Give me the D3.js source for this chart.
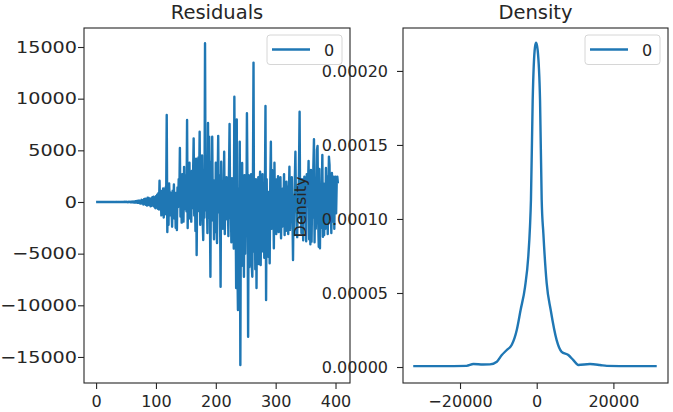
<!DOCTYPE html>
<html><head><meta charset="utf-8">
<script src="https://cdn.jsdelivr.net/npm/d3@7"></script>
<style>
body{margin:0;background:#fff}
svg{display:block}
text{font-family:"DejaVu Sans",sans-serif;fill:#262626}
</style>
</head><body>
<svg id="c" width="673" height="412"></svg>
<script>
// ---------- data ----------
const residuals = [
  0, 2, -3, 1, 4, -2, 0, 3, -1, 2,
  -4, 3, 1, -2, 5, -3, 2, 0, -5, 4,
  3, -6, 2, 5, -4, 1, 7, -5, 3, -2,
  6, -8, 4, 2, -7, 9, -3, 5, -10, 8,
  -6, 12, -9, 4, 15, -11, 8, -14, 18, -7,
  20, -16, 11, -22, 25, -13, 30, -27, 18, -35,
  42, -30, 55, -48, 38, -60, 75, -52, 90, -70,
  110, -85, 140, -120, 95, -160, 210, -130, 180, -240,
  260, -190, 320, -280, 230, -350, 420, -300, 380, -260,
  300, -420, 350, -380, 460, -310, 520, -450, 400, -600,
  550, -480, 700, -650, 850, -720, 2050, -700, 1100, -1300,
  900, -600, 1300, -1500, 400, -1200, 1400, -300, 8420, -2900,
  600, -2200, 1800, 200, -1300, 900, -600, -2400, 1100, -400,
  1700, -1600, 300, -2500, 900, -2710, 1400, -500, 2200, 100,
  5230, -1400, 800, -2000, 2700, 300, -1900, 3400, -700, 1200,
  2600, -900, 7940, -2520, 1300, 400, 3800, -1600, 600, -1900,
  3000, -600, 2500, 6160, -1300, 1900, -2800, 4200, -5130, 1600,
  -900, 4300, 800, 6800, -2200, 3100, -400, 4500, -1600, -3680,
  2000, -1500, 15360, -800, 4200, 1000, -3000, 7640, -1500, 6320,
  500, -7230, 3900, -1800, 6320, -600, 2100, -3600, 500, -2900,
  3800, -700, -3970, 1200, 6400, -1000, 2600, -200, -8200, 3900,
  -1500, 1200, -2600, 300, 4870, -3100, 900, -1700, 2400, -300,
  1100, -3300, 2600, 7550, -1550, 800, -3900, 2300, -1200, 700,
  -4500, 10190, -2000, 1100, -8330, 8000, -5600, -10450, 1300, -5800,
  5840, -15780, 1400, -6200, 3770, -3400, 900, -7230, 2600, -5000,
  800, -3200, 8590, 1200, -13040, 2600, -6300, 1100, -2500, 2700,
  -6100, -7230, 1300, 13490, -4800, 900, -6500, 2200, -8330, 800,
  -3700, 2400, -6000, 600, 2930, -6100, 1100, -2200, 2700, -4800,
  1300, -5400, 400, 9290, -9490, 2200, -2900, 600, -5300, 1000,
  -5930, 1800, 5840, -2600, 3100, -1200, 700, -4480, 3800, -1900,
  900, -3100, 2200, -600, 2500, -2900, 300, -1300, 2400, -3520,
  600, -2400, 1300, -1000, 2700, -3200, 100, -2800, 1970, -600,
  1500, -3100, 400, 3420, -2700, 900, -1300, 2400, -1000, -5610,
  600, -3200, 2100, 4870, -900, 1500, -3400, 800, -1100, 3300,
  8740, -1600, 700, -3000, 2200, -500, -3700, 1600, 2450, -1300,
  1000, -3800, 2700, -400, 1300, 3970, -3600, 900, -4100, 3100,
  -3840, 800, -1500, 3400, 6070, -3900, 1000, -2600, 600, 5030,
  5420, -1700, -4330, 3200, -4480, 900, -2500, 1100, 4550, -3360,
  1800, -3200, 800, -2600, 3300, -900, 2500, -3100, 700, 4390,
  3580, -1700, 400, -3000, 2800, -1900, 300, 2450, -2600, 2200,
  2450, -1100, 1900, 2450, 1800
];
const residualTicksX = [0, 100, 200, 300, 400];
const residualTicksY = [-15000, -10000, -5000, 0, 5000, 10000, 15000];

const densityX = [-32200, -25000, -18300, -16500, -14000, -12200, -10400, -9100, -7800, -6500,
  -5200, -4200, -3050, -2200, -1750, -1500, -1050, -450, -150, 250,
  870, 1300, 1740, 2600, 3650, 5200, 6500, 8250, 9550, 10850,
  13900, 16500, 18300, 25000, 31300];
const densityY = [0.0000006, 0.0000006, 0.0000008, 0.000002, 0.0000017, 0.0000018, 0.0000036, 0.0000081, 0.0000115, 0.000015,
  0.000025, 0.0000385, 0.000054, 0.0000745, 0.000095, 0.000113, 0.00018, 0.000216, 0.000219, 0.000214,
  0.00018, 0.000113, 0.00009, 0.0000566, 0.0000385, 0.0000182, 0.0000103, 0.0000081, 0.0000047, 0.0000014,
  0.000002, 0.0000014, 0.0000008, 0.0000006, 0.0000006];
const densityTicksX = [-20000, 0, 20000];
const densityTicksY = [0, 0.00005, 0.0001, 0.00015, 0.0002];

const titles = ["Residuals", "Density"];
const densityYLabel = "Density";
const legendLabel = "0";

// ---------- layout ----------
const COLOR = "#1f77b4";
const svg = d3.select("#c");
const tickFont = 16, titleFont = 19.5;

function panel(cfg) {
  const g = svg.append("g");
  const x = d3.scaleLinear().domain(cfg.xDomain).range([cfg.x0, cfg.x1]);
  const y = d3.scaleLinear().domain(cfg.yDomain).range([cfg.y1, cfg.y0]);

  g.append("rect").attr("x", cfg.x0).attr("y", cfg.y0)
    .attr("width", cfg.x1 - cfg.x0).attr("height", cfg.y1 - cfg.y0).attr("fill", "#fff");

  const clipId = "clip" + cfg.id;
  svg.append("clipPath").attr("id", clipId).append("rect")
    .attr("x", cfg.x0).attr("y", cfg.y0).attr("width", cfg.x1 - cfg.x0).attr("height", cfg.y1 - cfg.y0);

  g.append("path").datum(cfg.data)
    .attr("clip-path", `url(#${clipId})`)
    .attr("fill", "none").attr("stroke", COLOR).attr("stroke-width", 2.4)
    .attr("stroke-linejoin", "round").attr("stroke-linecap", "butt")
    .attr("d", d3.line().x(d => x(d[0])).y(d => y(d[1])).curve(cfg.curve || d3.curveLinear));

  // axes
  const ax = g.append("g").attr("transform", `translate(0,${cfg.y1})`)
    .call(d3.axisBottom(x).tickValues(cfg.xTicks).tickSize(6).tickPadding(3).tickFormat(cfg.xFmt));
  const ay = g.append("g").attr("transform", `translate(${cfg.x0},0)`)
    .call(d3.axisLeft(y).tickValues(cfg.yTicks).tickSize(6).tickPadding(cfg.yPad).tickFormat(cfg.yFmt));
  [ax, ay].forEach(a => {
    a.select(".domain").remove();
    a.selectAll("line").attr("stroke", "#262626").attr("stroke-width", 1.1);
    a.selectAll("text").attr("font-size", tickFont).attr("fill", "#262626")
      .attr("font-family", "DejaVu Sans");
  });
  ax.selectAll("text").attr("dy", "0.95em");
  if (cfg.yStretch) {
    ay.selectAll("text")
      .attr("x", -(6 + cfg.yPad) / cfg.yStretch)
      .attr("transform", `scale(${cfg.yStretch},1)`);
  }

  // frame
  g.append("rect").attr("x", cfg.x0).attr("y", cfg.y0)
    .attr("width", cfg.x1 - cfg.x0).attr("height", cfg.y1 - cfg.y0)
    .attr("fill", "none").attr("stroke", "#262626").attr("stroke-width", 1.1);

  // title
  g.append("text").attr("x", (cfg.x0 + cfg.x1) / 2).attr("y", 18.5)
    .attr("text-anchor", "middle").attr("font-size", titleFont).text(cfg.title);

  // legend
  const lx = cfg.x1 - 8, lw = 75;
  const lg = g.append("g");
  lg.append("rect").attr("x", lx - lw).attr("y", 35).attr("width", lw).attr("height", 29.5)
    .attr("rx", 3).attr("fill", "#fff").attr("fill-opacity", 0.8)
    .attr("stroke", "#d6d6d6").attr("stroke-width", 1);
  lg.append("line").attr("x1", lx - lw + 5).attr("x2", lx - lw + 43)
    .attr("y1", 49.5).attr("y2", 49.5).attr("stroke", COLOR).attr("stroke-width", 2.4);
  lg.append("text").attr("x", lx - lw + 57).attr("y", 56)
    .attr("font-size", tickFont).text(legendLabel);
  return g;
}

// left panel: residual series
panel({
  id: "L", x0: 84, x1: 350, y0: 28, y1: 383,
  xDomain: [-20.2, 424.2], yDomain: [-17520, 16840],
  data: residuals.map((v, i) => [i, v]),
  xTicks: residualTicksX, yTicks: residualTicksY,
  xFmt: d3.format("d"), yFmt: d => d3.format("d")(d).replace("-", "\u2212"),
  yPad: 1, yStretch: 1.2, title: titles[0]
});

// right panel: KDE
const gR = panel({
  id: "R", x0: 403, x1: 668, y0: 28, y1: 383,
  xDomain: [-34870, 34240], yDomain: [-0.0000108, 0.000229],
  data: densityX.map((v, i) => [v, densityY[i]]),
  curve: d3.curveMonotoneX,
  xTicks: densityTicksX, yTicks: densityTicksY,
  xFmt: d => d3.format("d")(d).replace("-", "\u2212"), yFmt: d3.format(".5f"),
  yPad: 9, title: titles[1]
});
gR.append("text").attr("transform", "translate(306,207) rotate(-90)")
  .attr("text-anchor", "middle").attr("font-size", tickFont).text(densityYLabel);
</script>
</body></html>
